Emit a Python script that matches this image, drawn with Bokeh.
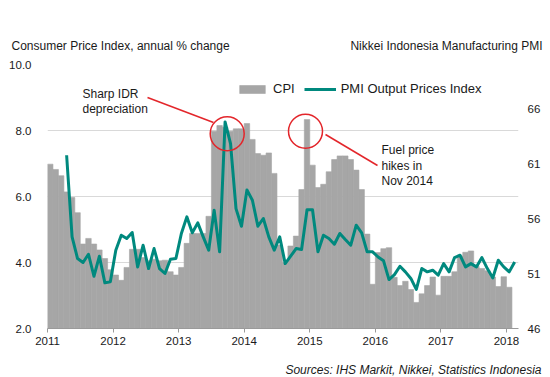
from bokeh.plotting import figure
from bokeh.models import Range1d, LinearAxis, FixedTicker
from bokeh.layouts import column
from bokeh.embed import file_html
from bokeh.resources import INLINE
from bokeh.core.properties import value

# ---------------- data ----------------
years = ["2011", "2012", "2013", "2014", "2015", "2016", "2017", "2018"]
year_month_index = [0, 12, 24, 36, 48, 60, 72, 84]

# CPI, annual % change, monthly Jan 2011 .. Jan 2018
cpi_2011 = [6.98, 6.82, 6.63, 6.14, 5.97, 5.51, 4.56, 4.73, 4.56, 4.38, 4.12, 3.78]
cpi_2012 = [3.62, 3.46, 3.85, 4.40, 4.40, 4.15, 4.05, 4.10, 4.05, 4.07, 3.72, 3.62]
cpi_2013 = [3.85, 4.58, 4.88, 4.88, 4.88, 5.40, 7.98, 8.15, 8.10, 7.98, 8.05, 8.05]
cpi_2014 = [8.21, 7.73, 7.30, 7.25, 7.32, 6.70, 4.53, 3.99, 4.50, 4.80, 6.21, 8.33]
cpi_2015 = [6.95, 6.27, 6.37, 6.75, 7.12, 7.23, 7.23, 7.12, 6.80, 6.21, 4.86, 3.34]
cpi_2016 = [4.30, 4.42, 4.45, 3.55, 3.30, 3.43, 3.18, 2.79, 3.05, 3.30, 3.56, 3.01]
cpi_2017 = [3.58, 3.58, 3.72, 4.20, 4.31, 4.35, 3.88, 3.82, 3.75, 3.56, 3.27, 3.57]
cpi_2018 = [3.25]
cpi = cpi_2011 + cpi_2012 + cpi_2013 + cpi_2014 + cpi_2015 + cpi_2016 + cpi_2017 + cpi_2018

# PMI Output Prices Index, monthly Apr 2011 .. Feb 2018
pmi_start_month = 3
pmi_2011 = [61.75, 54.33, 52.36, 52.00, 52.75, 50.75, 52.57, 50.15, 50.24]
pmi_2012 = [53.12, 54.48, 54.18, 54.73, 51.60, 53.57, 51.45, 53.27, 51.45, 51.00, 52.30, 52.36]
pmi_2013 = [54.64, 56.15, 54.70, 55.60, 54.33, 53.12, 56.75, 52.97, 64.78, 62.80, 56.90, 55.30]
pmi_2014 = [58.60, 57.66, 55.30, 56.00, 54.33, 53.12, 54.33, 51.90, 52.57, 53.27, 53.18, 56.80]
pmi_2015 = [56.80, 52.97, 54.48, 54.18, 53.66, 54.64, 54.09, 53.57, 55.39, 54.70, 52.97, 52.97]
pmi_2016 = [52.50, 52.15, 50.45, 50.90, 51.66, 51.15, 50.55, 49.55, 51.45, 51.15, 51.30, 50.85]
pmi_2017 = [51.90, 51.15, 52.45, 52.66, 51.60, 51.90, 51.60, 52.45, 51.45, 50.60, 52.20, 51.60]
pmi_2018 = [51.15, 52.05]
pmi = pmi_2011 + pmi_2012 + pmi_2013 + pmi_2014 + pmi_2015 + pmi_2016 + pmi_2017 + pmi_2018

left_ticks = [2, 4, 6, 8, 10]
right_ticks = [46, 51, 56, 61, 66]

left_title = "Consumer Price Index, annual % change"
right_title = "Nikkei Indonesia Manufacturing PMI"
source_text = "Sources: IHS Markit, Nikkei, Statistics Indonesia"

# ---------------- styling ----------------
FONT = "Liberation Sans"
TXT = "#1a1a1a"
BAR = "#A6A6A6"
TEAL = "#00897E"
RED = "#E3262B"
GRID = "#D9D9D9"

W = 550
HEAD_H = 56
FOOT_H = 22
MAIN_H = 377 - HEAD_H - FOOT_H
FRAME_TOP, FRAME_BOTTOM = 64, 328       # page coordinates
BL, BR = 47, 32
BT = FRAME_TOP - HEAD_H
BB = HEAD_H + MAIN_H - FRAME_BOTTOM
XMAX = 86.2
frame_w = W - BL - BR
px_per_month = frame_w / XMAX
px_per_unit = (FRAME_BOTTOM - FRAME_TOP) / 8.0


def dx(px):
    return (px - BL) / px_per_month


def dy(py):
    return 2 + (FRAME_BOTTOM - py) / px_per_unit


def blank(height):
    f = figure(width=W, height=height, output_backend="svg", toolbar_location=None,
               x_range=Range1d(0, W), y_range=Range1d(0, height),
               x_axis_location=None, y_axis_location=None,
               min_border_left=0, min_border_right=0, min_border_top=0,
               min_border_bottom=0)
    f.grid.visible = False
    f.outline_line_color = None
    f.frame_align = False
    return f


# header with the two axis titles
head = blank(HEAD_H)
head.text(x=[11], y=[HEAD_H - 45], text=[left_title], text_font=value(FONT),
          text_font_size="12px", text_color=TXT, text_align="left",
          text_baseline="middle")
head.text(x=[542], y=[HEAD_H - 45], text=[right_title], text_font=value(FONT),
          text_font_size="12px", text_color=TXT, text_align="right",
          text_baseline="middle")

# footer with the sources
foot = blank(FOOT_H)
foot.text(x=[541], y=[FOOT_H - (369.5 - HEAD_H - MAIN_H)], text=[source_text],
          text_font=value(FONT), text_font_size="12px", text_color=TXT,
          text_font_style="italic", text_align="right", text_baseline="middle")

# main chart
p = figure(width=W, height=MAIN_H, output_backend="svg", toolbar_location=None,
           x_range=Range1d(0, XMAX), y_range=Range1d(2, 10),
           min_border_left=BL, min_border_right=BR, min_border_top=BT,
           min_border_bottom=BB)
p.frame_align = False
p.extra_y_ranges = {"pmi": Range1d(46, 70)}
p.outline_line_color = None

lefts = [i for i in range(len(cpi))]
rights = [i + 1 for i in range(len(cpi))]
bottoms = [2 for _ in cpi]
p.quad(left=lefts, right=rights, bottom=bottoms, top=cpi, fill_color=BAR,
       line_color=BAR, line_width=0.6, legend_label="CPI")

pmi_x = [pmi_start_month + i + 0.5 for i in range(len(pmi))]
p.line(pmi_x, pmi, y_range_name="pmi", line_color=TEAL, line_width=3,
       line_join="round", legend_label="PMI Output Prices Index")

xa = p.xaxis[0]
xa.ticker = FixedTicker(ticks=year_month_index)
xa.major_label_overrides = {m: y for m, y in zip(year_month_index, years)}
xa.axis_line_color = "#9a9a9a"
xa.major_tick_line_color = "#9a9a9a"
xa.major_tick_out = 4
xa.major_tick_in = 0
xa.minor_tick_line_color = None
xa.major_label_standoff = 4
xa.major_label_text_font = FONT
xa.major_label_text_font_size = "11.5px"
xa.major_label_text_color = TXT

ya = p.yaxis[0]
ya.ticker = FixedTicker(ticks=left_ticks)
ya.major_label_overrides = {t: f"{t:.1f}" for t in left_ticks}
ya.axis_line_color = None
ya.major_tick_line_color = None
ya.minor_tick_line_color = None
ya.major_label_standoff = 10
ya.major_label_text_font = FONT
ya.major_label_text_font_size = "11.5px"
ya.major_label_text_color = TXT

ra = LinearAxis(y_range_name="pmi", ticker=FixedTicker(ticks=right_ticks))
ra.axis_line_color = None
ra.major_tick_line_color = None
ra.minor_tick_line_color = None
ra.major_label_standoff = 3
ra.major_label_text_font = FONT
ra.major_label_text_font_size = "11.5px"
ra.major_label_text_color = TXT
p.add_layout(ra, "right")

p.xgrid.grid_line_color = None
p.ygrid.ticker = FixedTicker(ticks=[4, 6, 8, 10])
p.ygrid.grid_line_color = GRID
p.ygrid.grid_line_width = 1

lg = p.legend[0]
lg.orientation = "horizontal"
lg.location = (236 - BL, FRAME_BOTTOM - 96)
lg.margin = 0
lg.padding = 0
lg.spacing = 9
lg.label_standoff = 5
lg.glyph_width = 32
lg.glyph_height = 10
lg.label_text_font = FONT
lg.label_text_font_size = "13px"
lg.label_text_color = TXT
lg.border_line_color = None
lg.background_fill_alpha = 0

# annotations
p.circle(x=[dx(226.7), dx(305.0)], y=[dy(133.3), dy(130.7)], radius=17,
         radius_units="screen", fill_color=None, line_color=RED, line_width=1.5)
p.segment(x0=[dx(147), dx(325)], y0=[dy(97), dy(134)],
          x1=[dx(213), dx(377)], y1=[dy(122), dy(165)],
          line_color=RED, line_width=1.5)
p.text(x=[dx(82), dx(381)], y=[dy(86), dy(142.5)],
       text=["Sharp IDR\ndepreciation", "Fuel price\nhikes in\nNov 2014"],
       text_font=value(FONT), text_font_size="12px", text_color=TXT,
       text_align="left", text_baseline="top", text_line_height=1.12)

layout = column(head, p, foot, spacing=0)
open("out.html", "w").write(file_html(layout, INLINE))
